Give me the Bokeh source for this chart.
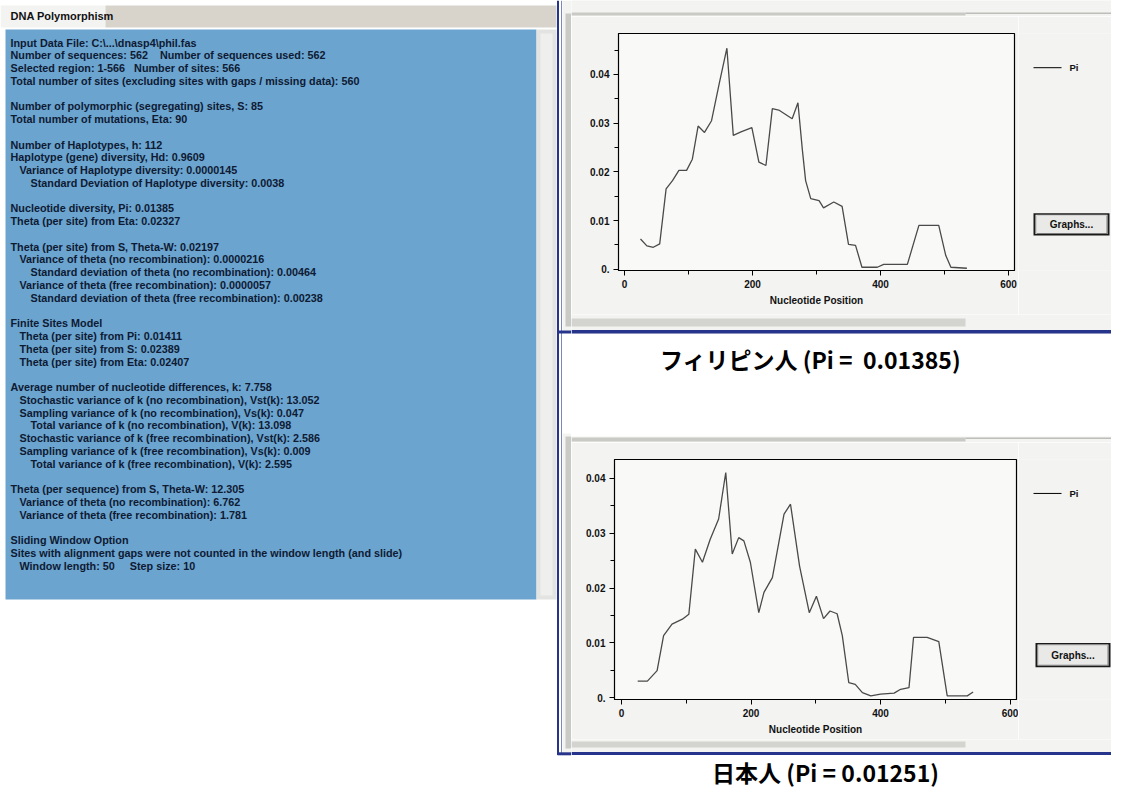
from bokeh.plotting import figure
from bokeh.layouts import row, column
from bokeh.models import Range1d, FixedTicker, CustomJSTickFormatter
from bokeh.core.properties import value
from bokeh.embed import file_html
from bokeh.resources import INLINE

# ---------------- data ----------------
phil_pos = [25, 35, 45, 55, 65, 75, 85, 97, 106, 115, 125, 136, 148, 160, 170, 182, 199, 210, 221, 231,
            241, 262, 271, 278, 283, 291, 304, 311, 327, 340, 350, 361, 371, 395, 405, 442, 460, 491, 502, 510, 535]
phil_pi = [0.0062, 0.0048, 0.0045, 0.0052, 0.0165, 0.0182, 0.0203, 0.0203, 0.0226, 0.0294,
           0.0281, 0.0305, 0.0381, 0.0454, 0.0275, 0.0282, 0.0291, 0.0220, 0.0213, 0.0330,
           0.0327, 0.0309, 0.0342, 0.0244, 0.0182, 0.0145, 0.0141, 0.0126, 0.0138, 0.0129,
           0.0051, 0.0049, 0.0004, 0.0004, 0.0010, 0.0010, 0.0090, 0.0090, 0.0028, 0.0004, 0.0002]

jpn_pos = [25, 40, 55, 65, 78, 94, 104, 114, 125, 137, 150, 161, 171, 181, 189, 199, 212, 220, 233, 251,
           261, 275, 290, 301, 312, 322, 333, 341, 351, 361, 372, 385, 400, 421, 431, 444, 451, 472, 490, 503, 534, 543]
jpn_pi = [0.0030, 0.0030, 0.0049, 0.0113, 0.0134, 0.0143, 0.0152, 0.0271, 0.0247, 0.0289,
          0.0326, 0.0411, 0.0262, 0.0292, 0.0286, 0.0247, 0.0155, 0.0192, 0.0219, 0.0335,
          0.0353, 0.0240, 0.0155, 0.0185, 0.0144, 0.0158, 0.0153, 0.0113, 0.0027, 0.0024,
          0.0009, 0.0003, 0.0006, 0.0008, 0.0015, 0.0018, 0.0110, 0.0110, 0.0102, 0.0003, 0.0003, 0.0010]

x_ticks = [0, 200, 400, 600]
x_minor = [100, 300, 500]
y_ticks = [0, 0.01, 0.02, 0.03, 0.04]
y_minor = [0.005, 0.015, 0.025, 0.035, 0.045]

NB = "\u00a0"
panel_title = "DNA Polymorphism"
text_lines = [
    "Input Data File: C:\\...\\dnasp4\\phil.fas",
    "Number of sequences: 562" + NB * 4 + "Number of sequences used: 562",
    "Selected region: 1-566" + NB * 3 + "Number of sites: 566",
    "Total number of sites (excluding sites with gaps / missing data): 560",
    "",
    "Number of polymorphic (segregating) sites, S: 85",
    "Total number of mutations, Eta: 90",
    "",
    "Number of Haplotypes, h: 112",
    "Haplotype (gene) diversity, Hd: 0.9609",
    "Variance of Haplotype diversity: 0.0000145",
    "Standard Deviation of Haplotype diversity: 0.0038",
    "",
    "Nucleotide diversity, Pi: 0.01385",
    "Theta (per site) from Eta: 0.02327",
    "",
    "Theta (per site) from S, Theta-W: 0.02197",
    "Variance of theta (no recombination): 0.0000216",
    "Standard deviation of theta (no recombination): 0.00464",
    "Variance of theta (free recombination): 0.0000057",
    "Standard deviation of theta (free recombination): 0.00238",
    "",
    "Finite Sites Model",
    "Theta (per site) from Pi: 0.01411",
    "Theta (per site) from S: 0.02389",
    "Theta (per site) from Eta: 0.02407",
    "",
    "Average number of nucleotide differences, k: 7.758",
    "Stochastic variance of k (no recombination), Vst(k): 13.052",
    "Sampling variance of k (no recombination), Vs(k): 0.047",
    "Total variance of k (no recombination), V(k): 13.098",
    "Stochastic variance of k (free recombination), Vst(k): 2.586",
    "Sampling variance of k (free recombination), Vs(k): 0.009",
    "Total variance of k (free recombination), V(k): 2.595",
    "",
    "Theta (per sequence) from S, Theta-W: 12.305",
    "Variance of theta (no recombination): 6.762",
    "Variance of theta (free recombination): 1.781",
    "",
    "Sliding Window Option",
    "Sites with alignment gaps were not counted in the window length (and slide)",
    "Window length: 50" + NB * 5 + "Step size: 10",
]
text_indent = [0, 0, 0, 0, 0, 0, 0, 0, 0, 0, 1, 2, 0, 0, 0, 0, 0, 1, 2, 1, 2, 0, 0, 1, 1, 1, 0,
               0, 1, 1, 2, 1, 1, 2, 0, 0, 1, 1, 0, 0, 0, 1]

title_phil = "フィリピン人 (Pi =" + NB * 2 + "0.01385)"
title_jpn = "日本人 (Pi = 0.01251)"
legend_label = "Pi"
button_label = "Graphs..."
x_axis_label = "Nucleotide Position"

# ---------------- styling ----------------
BLUE_PANEL = "#6aa4cf"
TEXT_DARK = "#0f1a33"
WIN_BG = "#f3f3f1"
FRAME_BG = "#f9f9f8"
BORDER_BLUE = "#27348c"
GRAY_BAND = "#c9c9c5"
FONT = "Liberation Sans"
CJK = "Noto Sans CJK JP"

TOTAL_H = 788
SPLIT_X = 571   # left panel | chart windows
RIGHT_X = 1111
SIDE_X = 1018   # chart | legend & button


def pix_fig(x0, x1, y0, y1, bg):
    """A figure whose data units are picture pixels (y downwards), used for decorations."""
    p = figure(width=int(x1 - x0), height=int(y1 - y0), x_range=Range1d(x0, x1), y_range=Range1d(y1, y0),
               output_backend="svg", toolbar_location=None, min_border=0,
               x_axis_type=None, y_axis_type=None, outline_line_color=None, title=None,
               background_fill_color=bg, border_fill_color=bg)
    p.xgrid.visible = False
    p.ygrid.visible = False
    return p


# ---------------- left text panel ----------------
left = pix_fig(0, SPLIT_X, 0, TOTAL_H, "white")
left.quad(left=[0, 105], right=[105, 556], top=[5, 5], bottom=[27, 27],
          fill_color=["#f3f3f1", "#d8d4cb"], line_color=None)
left.quad(left=[5], right=[536], top=[29], bottom=[599], fill_color=BLUE_PANEL, line_color=None)
left.quad(left=[536], right=[556], top=[29], bottom=[599], fill_color="#e3e3e1", line_color=None)
left.quad(left=[540], right=[552], top=[33], bottom=[595], fill_color="#efefed", line_color=None)
# window backgrounds / left strips of the chart windows
left.quad(left=[562, 562], right=[571, 571], top=[0, 433], bottom=[331, 753],
          fill_color=WIN_BG, line_color=None)
left.quad(left=[565, 565], right=[571, 571], top=[13, 436], bottom=[326, 748],
          fill_color=GRAY_BAND, line_color=None)
left.segment(x0=[557.5, 561], y0=[0, 0], x1=[557.5, 561], y1=[754.5, 754.5],
             line_color=[BORDER_BLUE, "#7d86bd"], line_width=[2, 1])
left.segment(x0=[557, 557], y0=[331.5, 753.3], x1=[571, 571], y1=[331.5, 753.3],
             line_color=BORDER_BLUE, line_width=3)

left.text(x=[10], y=[15], text=[panel_title], text_font=value(FONT), text_font_size="11px",
          text_font_style="bold", text_baseline="middle", text_color="#111111")

indent_px = [0, 9, 20]
tx = [10 + indent_px[i] for i in text_indent]
ty = [42 + k * 12.76 for k in range(len(text_lines))]
left.text(x=tx, y=ty, text=text_lines, text_font=value(FONT), text_font_size="10.8px",
          text_font_style="bold", text_baseline="middle", text_color=TEXT_DARK)


# ---------------- chart windows ----------------
def make_chart(pos, pi, fig_y0, fig_y1, frame, xr, yr):
    fl, ft, fr, fb = frame
    p = figure(width=SIDE_X - SPLIT_X, height=fig_y1 - fig_y0,
               x_range=Range1d(*xr), y_range=Range1d(*yr),
               output_backend="svg", toolbar_location=None, title=None,
               min_border_left=fl - SPLIT_X, min_border_right=SIDE_X - fr,
               min_border_top=ft - fig_y0, min_border_bottom=fig_y1 - fb,
               background_fill_color=FRAME_BG, border_fill_color=WIN_BG,
               outline_line_color="black", outline_line_width=1.2)
    p.xgrid.visible = False
    p.ygrid.visible = False
    p.xaxis.ticker = FixedTicker(ticks=x_ticks, minor_ticks=x_minor)
    p.yaxis.ticker = FixedTicker(ticks=y_ticks, minor_ticks=y_minor)
    p.yaxis.formatter = CustomJSTickFormatter(code="return tick < 1e-9 ? '0.' : tick.toFixed(2);")
    for ax in p.axis:
        ax.axis_line_color = "black"
        ax.major_tick_in = 0
        ax.major_tick_out = 5
        ax.minor_tick_in = 0
        ax.minor_tick_out = 4
        ax.major_tick_line_color = "black"
        ax.minor_tick_line_color = "black"
        ax.major_label_text_font = FONT
        ax.major_label_text_font_size = "10px"
        ax.major_label_text_font_style = "bold"
        ax.major_label_text_color = "#111111"
        ax.major_label_standoff = 4
    p.xaxis.axis_label = x_axis_label
    p.xaxis.axis_label_text_font = FONT
    p.xaxis.axis_label_text_font_size = "10px"
    p.xaxis.axis_label_text_font_style = "bold"
    p.xaxis.axis_label_text_color = "#111111"
    p.xaxis.axis_label_standoff = 4
    p.line(pos, pi, line_color="#4a4a4a", line_width=1.3)
    return p


def make_side(fig_y0, fig_y1, legend_y, button):
    s = pix_fig(SIDE_X, RIGHT_X, fig_y0, fig_y1, WIN_BG)
    s.segment(x0=[1033], y0=[legend_y], x1=[1061], y1=[legend_y], line_color="black", line_width=1)
    s.text(x=[1069], y=[legend_y], text=[legend_label], text_font=value(FONT), text_font_size="9.5px",
           text_font_style="bold", text_baseline="middle", text_color="#111111")
    bl, bt, br, bb = button
    s.quad(left=[bl - 1, bl + 1, bl + 2, bl + 2], right=[br + 1, br - 1, br - 1, br - 2],
           top=[bt - 1, bt + 1, bt + 2, bt + 2], bottom=[bb + 1, bb - 1, bb - 1, bb - 2],
           fill_color=["#1a1a1a", "#ffffff", "#7a7a7a", "#e9e9e7"], line_color=None)
    s.text(x=[(bl + br) / 2], y=[(bt + bb) / 2], text=[button_label], text_font=value(FONT),
           text_font_size="10px", text_font_style="bold", text_align="center",
           text_baseline="middle", text_color="#111111")
    return s


def band_fig(y0, y1, bands):
    b = pix_fig(SPLIT_X, RIGHT_X, y0, y1, WIN_BG)
    for (x0, x1, t, bt, c) in bands:
        b.quad(left=[x0], right=[x1], top=[t], bottom=[bt], fill_color=c, line_color=None)
    return b


def caption_fig(y0, y1, text, cx, cy, size):
    c = pix_fig(SPLIT_X, RIGHT_X, y0, y1, "white")
    c.text(x=[cx], y=[cy], text=[text], text_font=value(CJK), text_font_size=size,
           text_font_style="bold", text_align="center", text_baseline="middle", text_color="#000000")
    return c


# top window (y 0..334)
A = band_fig(0, 16, [(SPLIT_X, 965, 12, 15, GRAY_BAND), (965, RIGHT_X, 12, 13.5, "#bdbdba")])
chart_top = make_chart(phil_pos, phil_pi, 16, 314, (618, 33, 1014, 270),
                       (-9.375, 609.375), (-0.000267, 0.04842))
side_top = make_side(16, 314, 59, (1034, 243, 1108, 269))
C = band_fig(314, 334, [(SPLIT_X, 965, 318, 326, "#d3d3cf"), (SPLIT_X, RIGHT_X, 329.5, 333, BORDER_BLUE)])
D = caption_fig(334, 433, title_phil, 810, 358, "23px")

# bottom window (y 433..755)
E = band_fig(433, 442, [(SPLIT_X, 965, 434, 438, GRAY_BAND), (965, RIGHT_X, 434, 435.5, "#bdbdba")])
chart_bot = make_chart(jpn_pos, jpn_pi, 442, 739, (614, 459, 1016, 699),
                       (-10.81, 610.0), (-0.000365, 0.04347))
side_bot = make_side(442, 739, 484, (1036, 670, 1109, 698))
G = band_fig(739, 755, [(SPLIT_X, 965, 741, 747, "#d3d3cf"), (SPLIT_X, RIGHT_X, 751.5, 755, BORDER_BLUE)])
H = caption_fig(755, TOTAL_H, title_jpn, 825, 771, "23px")

right = column(A, row(chart_top, side_top, spacing=0), C, D, E,
               row(chart_bot, side_bot, spacing=0), G, H, spacing=0)
layout = row(left, right, spacing=0)
open("out.html", "w").write(file_html(layout, INLINE))
